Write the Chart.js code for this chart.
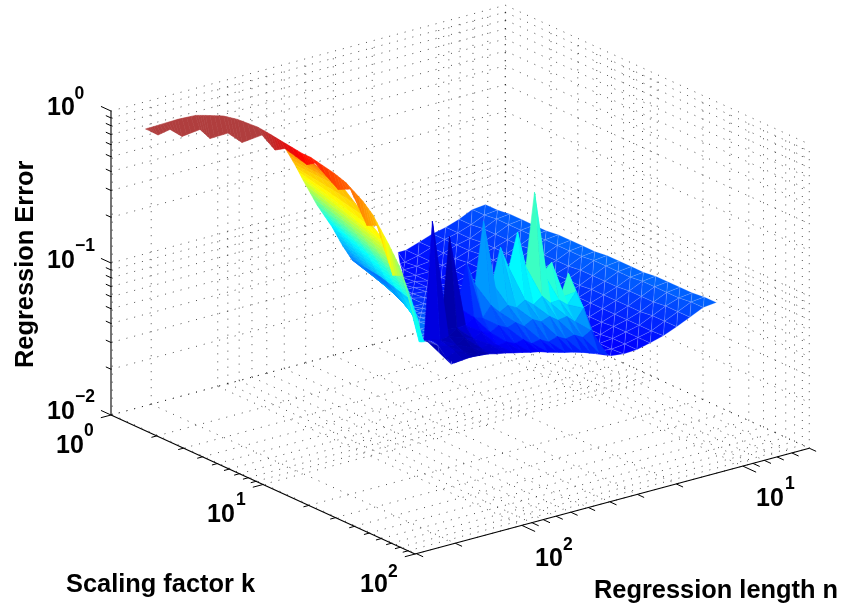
<!DOCTYPE html>
<html><head><meta charset="utf-8">
<style>html,body{margin:0;padding:0;background:#fff}canvas{display:block}</style>
<script src="https://cdn.jsdelivr.net/npm/chart.js@4/dist/chart.umd.min.js"></script>
</head><body><canvas id="c" width="842" height="613"></canvas>
<script>
// ---- axis ticks (true data units) ----
const kTicks=[1,2,3,4,5,6,7,8,9,10,20,30,40,50,60,70,80,90,100];
const nTicks=[304,300,200,100,90,80,70,60,50,40,30,20,10,9,8,7,6,5];
const errTicks=[0.01,0.02,0.03,0.04,0.05,0.06,0.07,0.08,0.09,0.1,0.2,0.3,0.4,0.5,0.6,0.7,0.8,0.9,1];
// ---- surface values: log10 k, log10 n, and decades of error above 0.01 ----
const plateLogK=[.38,.46,.54,.62,.70,.78,.86,.94,1.02,1.10,1.18,1.26,1.34,1.42,1.50,1.58,1.66,1.74,1.82,1.90];
const plateLogN=[1.05,1.11,1.17,1.23,1.29,1.35,1.41,1.47,1.53,1.59,1.65,1.71,1.77,1.83,1.89,1.95,2.01,2.07,2.13,2.19,2.25,2.31,2.37];
const plateEdgeLogN=[1.446,1.492,1.538,1.593,1.643,1.689,1.731,1.777,1.823,1.869,1.919,1.969,2.016,2.066,2.116,2.167,2.217,2.268,2.323,2.383];
const plateColorOffset=[0,0,0,0,0,0,0,0,0,0,.01,.02,.03,.04,.05,.06,.08,.10,.12,.14,.16,.18,.20];
const plateRowFront=[0,0,0,0,0,0,0,0,0,0,0,0,0,0,.1,.3,.5,.8,1,1];
const plateRowLift=[.03,.03,.03,.03,.03,.03,.03,.03,.03,.03,.025,.025,.02,.02,.015,.01,.01,.005,0,0];
const plateErr=[
[1.00,.99,.95,.92,.90,.87,.84],
[1.00,.99,.95,.92,.90,.87,.84,.82],
[1.01,1.00,.96,.92,.90,.87,.84,.83,.83],
[1.01,1.00,.96,.93,.90,.87,.85,.83,.83,.84],
[1.01,1.00,.96,.93,.91,.88,.85,.83,.83,.85],
[1.01,1.00,.96,.93,.91,.88,.85,.83,.84,.85,.87],
[1.02,1.01,.97,.93,.91,.88,.85,.84,.84,.86,.88,.89],
[1.02,1.01,.97,.93,.91,.88,.85,.84,.84,.86,.88,.90,.92],
[1.02,1.01,.97,.94,.91,.88,.86,.84,.85,.87,.89,.90,.92],
[1.02,1.01,.97,.94,.91,.88,.86,.85,.85,.87,.89,.91,.93,.95],
[1.03,1.02,.98,.94,.91,.89,.86,.85,.85,.88,.90,.92,.94,.96,.98],
[1.03,1.02,.98,.94,.91,.89,.86,.85,.86,.88,.91,.93,.95,.97,.99,1.01],
[1.03,1.02,.98,.95,.92,.89,.87,.85,.86,.89,.91,.93,.95,.97,.99,1.02,1.04],
[1.03,1.02,.98,.95,.92,.89,.87,.86,.86,.89,.92,.94,.96,.98,1.0,1.03,1.05],
[1.04,1.03,.99,.95,.92,.89,.87,.86,.87,.90,.92,.95,.97,.99,1.01,1.03,1.06,1.07],
[1.04,1.03,.99,.95,.92,.89,.87,.86,.87,.90,.93,.95,.97,1.0,1.02,1.04,1.07,1.08,1.11],
[1.04,1.03,.99,.95,.92,.90,.87,.87,.87,.91,.94,.96,.98,1.01,1.03,1.05,1.07,1.09,1.10,1.162],
[1.04,1.03,1.0,.96,.92,.90,.88,.87,.88,.91,.94,.97,.99,1.01,1.03,1.06,1.08,1.09,1.11,1.13,1.205],
[1.05,1.04,1.0,.96,.92,.90,.88,.87,.88,.92,.95,.97,1.0,1.02,1.04,1.07,1.09,1.10,1.11,1.12,1.15,1.257],
[1.05,1.04,1.0,.96,.925,.90,.88,.875,.885,.92,.955,.98,1.0,1.03,1.05,1.075,1.10,1.11,1.12,1.125,1.11,1.26,1.31]];
const spikeLogK=[1.70,1.75,1.80,1.85,1.90];
const spikeLogN=[1.545,1.583,1.621,1.659,1.698,1.736,1.775,1.813,1.852,1.89,1.928,1.967,2.005,2.044,2.083,2.121,2.16,2.198,2.236];
const spikeErr=[
[1.21,1.36,1.21,1.46,1.41,1.95,1.475,1.72,1.50,1.65,1.43,1.85,1.45,1.61,1.33,1.81,1.21,1.94,1.175],
[1.125,1.26,1.19,1.235,1.23,1.29,1.25,1.295,1.26,1.29,1.26,1.32,1.25,1.27,1.235,1.23,1.19,1.18,1.20],
[.98,1.175,1.10,1.15,1.14,1.18,1.16,1.19,1.16,1.20,1.18,1.21,1.18,1.20,1.17,1.19,1.16,1.165,1.18],
[.91,1.05,1.02,1.05,1.04,1.07,1.05,1.08,1.07,1.11,1.10,1.125,1.115,1.14,1.13,1.145,1.135,1.15,1.125],
[.90,.925,.94,.96,.977,.99,1.007,1.02,1.04,1.05,1.064,1.076,1.09,1.10,1.115,1.12,1.125,1.12,1.115]];
const spikeColor=[
[.25,.47,.42,.47,.40,.50,.42,.42,.36,.36,.30,.32,.25,.18,.12,.02,.04,.08,.09],
[.2,.38,.36,.37,.36,.38,.32,.33,.29,.28,.24,.24,.20,.13,.10,.02,.03,.07,.08],
[.17,.30,.28,.29,.27,.28,.25,.25,.22,.21,.18,.17,.14,.10,.08,.02,.03,.06,.07],
[.13,.22,.20,.20,.19,.19,.17,.17,.15,.14,.12,.12,.10,.08,.06,.02,.03,.05,.06],
[.11,.13,.12,.12,.11,.11,.10,.10,.09,.09,.08,.08,.07,.06,.05,.02,.03,.04,.05]];
const sheetLogK=[1.0,1.066,1.118,1.21,1.309,1.375,1.441,1.625,1.809,1.882];
const sheetLogN=[[2.383,2.326,2.27],[2.383,2.27,2.157],[2.383,2.191,1.998],[2.383,2.202,2.021],[2.383,2.218,2.053],[2.383,2.229,2.075],[2.383,2.243,2.103],[2.383,2.297,2.211],[2.383,2.356,2.329],[2.383,2.374,2.365]];
const sheetErr=[[2.175,2.113,2.05],[2.093,1.967,1.84],[2.018,1.726,1.434],[1.896,1.628,1.36],[1.797,1.551,1.306],[1.709,1.48,1.253],[1.64,1.427,1.214],[1.613,1.4375,1.263],[1.558,1.442,1.326],[1.302,1.305,1.308]];
const sheetColor=[[.74,.76,.78],[.68,.68,.70],[.60,.60,.62],[.45,.49,.55],[.35,.39,.47],[.29,.33,.42],[.24,.28,.38],[.22,.26,.38],[.33,.38,.42],[.38,.38,.38]];
const bandLogK=[.082,.135,.214,.293,.411,.477,.595,.6875,.819,.905,.97,1.115,1.168,1.32,1.40,1.51,1.576,1.68,1.746,1.85,1.89];
const bandRidgeErr=[1.88,1.92,1.98,2.04,2.12,2.15,2.20,2.22,2.23,2.22,2.21,2.19,2.19,2.157,2.13,2.06,2.0,1.855,1.75,1.465,1.305];
const bandEdgeErr=[1.86,1.857,1.93,1.92,2.02,1.99,2.08,2.06,2.17,2.11,2.15,2.11,2.145,2.04,2.08,1.89,1.92,1.64,1.67,1.325,1.30];
const bandColor=[1,1,1,1,1,1,1,1,1,.97,.94,.86,.85,.80,.78,.73,.70,.60,.52,.40,.36];
const bandRidgeLogN=2.383, bandEdgeLogN=2.363;
// colour lookup for the flat plate: decades of error -> colormap position
const plateColorDecades=[.82,.875,1.0,1.05], plateColorPos=[.09,.11,.175,.215];

// ---- layout of the oblique box ----
const L={ox:111,oy:415,kx:152,ky:69.5,nx:221,ny:-59.3,zy:152,nFront:2.483};
function P(lk,ln,q){const m=L.nFront-ln;return {x:L.ox+L.kx*lk+L.nx*m,y:L.oy+L.ky*lk+L.ny*m-L.zy*q};}
const lg=Math.log10, zq=e=>lg(e)+2;
const cmap=[[0,0,0,143],[.11,0,0,255],[.375,0,255,255],[.625,255,255,0],[.875,255,0,0],[.94,215,22,22],[1,176,62,62]];
function jet(t){t=Math.max(0,Math.min(1,t));for(let i=1;i<cmap.length;i++){if(t<=cmap[i][0]){const a=cmap[i-1],b=cmap[i],f=(t-a[0])/(b[0]-a[0]);return `rgb(${a[1]+(b[1]-a[1])*f|0},${a[2]+(b[2]-a[2])*f|0},${a[3]+(b[3]-a[3])*f|0})`;}}return 'rgb(176,62,62)';}
function platePos(q){const d=plateColorDecades,p=plateColorPos;if(q<=d[0])return p[0];for(let i=1;i<d.length;i++)if(q<=d[i])return p[i-1]+(p[i]-p[i-1])*(q-d[i-1])/(d[i]-d[i-1]);return p[p.length-1];}

const ds=[];let seq=0;
function add(pts,o){ds.push(Object.assign({data:pts,showLine:true,pointRadius:0,borderWidth:1,borderColor:'#000',fill:false,clip:false,order:-(seq++)},o));}
function poly(pts,color,edge,w){add(pts.concat([pts[0]]),{backgroundColor:color,fill:'shape',borderColor:edge||color,borderWidth:w===undefined?.6:w,borderDash:[4000,1]});}
const dotted={borderWidth:.7,borderColor:'#000',borderDash:[1,7]};

// dotted grids
const kMin=0,kMax=2,nBack=lg(5),nFront=L.nFront,zMin=0,zMax=2;
errTicks.forEach(e=>{const q=zq(e);
  add([P(kMin,nFront,q),P(kMin,nBack,q)],dotted);
  add([P(kMin,nBack,q),P(kMax,nBack,q)],dotted);});
nTicks.slice(1).forEach(n=>{const l=lg(n);
  add([P(kMin,l,zMin),P(kMin,l,zMax)],dotted);
  add([P(kMin,l,zMin),P(kMax,l,zMin)],dotted);});
kTicks.forEach(k=>{const l=lg(k);
  add([P(l,nBack,zMin),P(l,nBack,zMax)],dotted);
  add([P(l,nFront,zMin),P(l,nBack,zMin)],dotted);});

// axes and ticks
const ax={borderWidth:1.1,borderColor:'#000'}, tk={borderWidth:1,borderColor:'#000'};
add([P(0,nFront,0),P(0,nFront,2)],ax);
add([P(0,nFront,0),P(2,nFront,0)],ax);
add([P(2,nFront,0),P(2,nBack,0)],ax);
errTicks.forEach(e=>{const q=zq(e),a=P(0,nFront,q),major=Math.abs(q-Math.round(q))<1e-6,len=major?.066:.034;
  add([a,{x:a.x-L.kx*len,y:a.y-L.ky*len}],tk);});
kTicks.forEach(k=>{const l=lg(k),a=P(l,nFront,0),major=Math.abs(l-Math.round(l))<1e-6,len=major?.046:.024;
  add([a,{x:a.x-L.nx*len,y:a.y-L.ny*len}],tk);});
nTicks.slice(1).forEach(n=>{const l=lg(n),a=P(2,l,0),major=Math.abs(l-Math.round(l))<1e-6,len=major?.088:.045;
  add([a,{x:a.x+L.kx*len,y:a.y+L.ky*len}],tk);});

// flat plate with pale triangle seams
const seam='rgba(190,210,255,.17)';
function plateTone(i,j,q){return platePos(q)+plateRowLift[i]-plateColorOffset[j]*plateRowFront[i];}
function plateNode(i,j){const row=plateErr[i],ln=plateLogN[j];
  if(j<row.length)return {p:P(plateLogK[i],ln,row[j]),t:plateTone(i,j,row[j])};
  const q=row[row.length-1];return {p:P(plateLogK[i],plateEdgeLogN[i],q),t:plateTone(i,row.length-1,q)};}
for(let i=0;i<plateLogK.length-1;i++)for(let j=0;j<plateLogN.length-1;j++){
  const a=plateNode(i,j),b=plateNode(i,j+1),c=plateNode(i+1,j),d=plateNode(i+1,j+1);
  [[a,b,d],[a,d,c]].forEach(T=>{
    const A=Math.abs((T[1].p.x-T[0].p.x)*(T[2].p.y-T[0].p.y)-(T[2].p.x-T[0].p.x)*(T[1].p.y-T[0].p.y));
    if(A<.5)return;
    poly(T.map(o=>o.p),jet((T[0].t+T[1].t+T[2].t)/3),seam,1);});
}
// spikes
for(let i=0;i<spikeLogK.length-1;i++)for(let j=0;j<spikeLogN.length-1;j++){
  const N=(a,b)=>({p:P(spikeLogK[a],spikeLogN[b],spikeErr[a][b]),t:spikeColor[a][b]});
  const a=N(i,j),b=N(i,j+1),c=N(i+1,j),d=N(i+1,j+1);
  [[a,b,c],[b,d,c]].forEach(T=>poly(T.map(o=>o.p),jet((T[0].t+T[1].t+T[2].t)/3)));
}
// fold sheet, shaded between its nodes
const SUB=4;
function bil(f,i,j,u,v){return (1-u)*(1-v)*f(i,j)+u*(1-v)*f(i+1,j)+(1-u)*v*f(i,j+1)+u*v*f(i+1,j+1);}
const fK=(i,j)=>sheetLogK[i],fN=(i,j)=>sheetLogN[i][j],fE=(i,j)=>sheetErr[i][j],fC=(i,j)=>sheetColor[i][j];
for(let i=0;i<sheetLogK.length-1;i++)for(let j=0;j<2;j++)for(let a=0;a<SUB;a++)for(let b=0;b<SUB;b++){
  const pt=(u,v)=>P(bil(fK,i,j,u,v),bil(fN,i,j,u,v),bil(fE,i,j,u,v));
  const u0=a/SUB,u1=(a+1)/SUB,v0=b/SUB,v1=(b+1)/SUB;
  poly([pt(u0,v0),pt(u1,v0),pt(u1,v1),pt(u0,v1)],jet(bil(fC,i,j,(u0+u1)/2,(v0+v1)/2)));
}
// saw-toothed band along the crest
for(let i=0;i<bandLogK.length-1;i++)for(let a=0;a<SUB;a++){
  const f0=a/SUB,f1=(a+1)/SUB,mix=(A,f)=>A[i]+(A[i+1]-A[i])*f;
  poly([P(mix(bandLogK,f0),bandRidgeLogN,mix(bandRidgeErr,f0)),P(mix(bandLogK,f1),bandRidgeLogN,mix(bandRidgeErr,f1)),
        P(mix(bandLogK,f1),bandEdgeLogN,mix(bandEdgeErr,f1)),P(mix(bandLogK,f0),bandEdgeLogN,mix(bandEdgeErr,f0))],jet(mix(bandColor,(f0+f1)/2)));
}

// ---- text ----
const FONT='"Liberation Sans"';
const tickLabels=[
 {t:'10',s:'0',x:47,y:115,sx:74.5,sy:99},{t:'10',s:'\u22121',x:47,y:268,sx:75,sy:251},{t:'10',s:'\u22122',x:47,y:419,sx:75,sy:402},
 {t:'10',s:'0',x:56,y:453,sx:84,sy:436},{t:'10',s:'1',x:207,y:522,sx:236,sy:505},{t:'10',s:'2',x:360,y:592,sx:388,sy:577},
 {t:'10',s:'2',x:535,y:566,sx:563,sy:550},{t:'10',s:'1',x:756,y:506,sx:785,sy:489}];
const titles={z:'Regression Error',k:'Scaling factor k',n:'Regression length n'};
const textPlugin={id:'text',afterDraw(chart){const c=chart.ctx;c.save();c.fillStyle='#000';c.textBaseline='alphabetic';c.textAlign='left';
  tickLabels.forEach(l=>{c.font='bold 25px '+FONT;c.fillText(l.t,l.x,l.y);c.font='bold 17.5px '+FONT;c.fillText(l.s,l.sx,l.sy);});
  c.font='bold 25.4px '+FONT;
  c.fillText(titles.k,66,592);
  c.fillText(titles.n,594,598);
  c.translate(33,368);c.rotate(-Math.PI/2);c.fillText(titles.z,0,0);
  c.restore();}};

new Chart(document.getElementById('c'),{type:'scatter',data:{datasets:ds},plugins:[textPlugin],options:{
  responsive:false,animation:false,events:[],normalized:true,layout:{padding:0},
  plugins:{legend:{display:false},title:{display:false},tooltip:{enabled:false}},
  scales:{x:{type:'linear',min:0,max:842,display:false},y:{type:'linear',min:0,max:613,reverse:true,display:false}}}});
</script></body></html>
